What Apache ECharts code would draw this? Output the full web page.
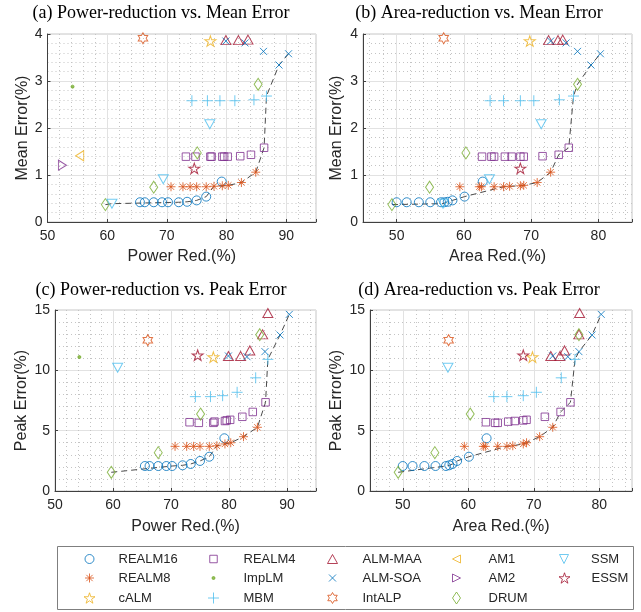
<!DOCTYPE html>
<html>
<head>
<meta charset="utf-8">
<title>Reduction vs. error</title>
<script src="https://cdn.jsdelivr.net/npm/echarts@6/dist/echarts.min.js"></script>
<style>
  html, body { margin: 0; padding: 0; background: #fff; }
  #chart { width: 641px; height: 612px; }
</style>
</head>
<body>
<div id="chart"></div>
<script>
// values: power / area reduction (%), mean / peak error (%)
// null = point falls outside the plotted range
const realm16Power = [65.5, 66.3, 67.8, 69.2, 70.2, 72.0, 73.4, 75.0, 76.6, 79.2]
const realm16Area = [50.0, 51.5, 53.3, 55.0, 56.6, 57.1, 57.6, 58.3, 60.1, 62.8]
const realm16Mean = [0.42, 0.42, 0.42, 0.42, 0.42, 0.42, 0.43, 0.46, 0.54, 0.86]
const realm16Peak = [2.07, 2.07, 2.07, 2.07, 2.07, 2.13, 2.24, 2.49, 2.84, 4.37]

const realm8Power = [70.7, 72.7, 73.9, 75.0, 76.6, 77.9, 79.3, 80.3, 82.5, 84.9]
const realm8Area = [59.4, 62.3, 62.6, 64.5, 65.9, 66.8, 68.4, 68.9, 70.9, 72.9]
const realm8Mean = [0.75, 0.75, 0.75, 0.75, 0.75, 0.76, 0.77, 0.78, 0.84, 1.06]
const realm8Peak = [3.70, 3.70, 3.70, 3.70, 3.70, 3.75, 3.90, 4.00, 4.50, 5.28]

const realm4Power = [73.2, 74.8, 77.3, 77.5, 79.3, 79.6, 80.2, 82.3, 84.1, 86.3]
const realm4Area = [62.7, 64.1, 64.5, 66.1, 67.1, 68.4, 68.9, 71.7, 74.1, 75.6]
const realm4Mean = [1.39, 1.39, 1.39, 1.39, 1.39, 1.39, 1.39, 1.40, 1.43, 1.58]
const realm4Peak = [5.70, 5.65, 5.65, 5.75, 5.80, 5.85, 5.90, 6.15, 6.55, 7.35]

const calmPower = [77.3]
const calmArea = [69.8]
const calmMean = [3.85]
const calmPeak = [11.1]

const impLmPower = [54.2]
const impLmArea = [null]
const impLmMean = [2.88]
const impLmPeak = [11.1]

const mbmPower = [74.2, 76.8, 78.9, 81.4, 84.6, 86.7]
const mbmArea = [63.9, 65.9, 68.4, 70.4, 74.2, 76.3]
const mbmMean = [2.58, 2.58, 2.58, 2.58, 2.60, 2.68]
const mbmPeak = [7.82, 7.82, 7.90, 8.18, 9.38, 10.91]

const almMaaPower = [79.9, 82.0, 83.6, 85.8, 86.7]
const almMaaArea = [72.6, 74.0, 74.7, 76.9, 77.0]
const almMaaMean = [3.87, 3.87, 3.88, 4.02, null]
const almMaaPeak = [11.19, 11.19, 11.65, 12.98, 14.75]

const almSoaPower = [79.9, 83.1, 86.2, 88.8, 90.4]
const almSoaArea = [72.9, 75.2, 76.9, 78.9, 80.3]
const almSoaMean = [3.85, 3.81, 3.63, 3.34, 3.58]
const almSoaPeak = [11.19, 11.13, 11.55, 12.93, 14.64]

const intAlpPower = [66.0]
const intAlpArea = [57.0]
const intAlpMean = [3.91]
const intAlpPeak = [12.5]

const am1Power = [55.4]
const am1Area = [null]
const am1Mean = [1.41]
const am1Peak = [null]

const am2Power = [52.5]
const am2Area = [null]
const am2Mean = [1.21]
const am2Peak = [null]

const drumPower = [59.7, 67.8, 75.1, 85.3]
const drumArea = [49.3, 54.9, 60.3, 76.9]
const drumMean = [0.37, 0.74, 1.47, 2.93]
const drumPeak = [1.55, 3.18, 6.38, 12.95]

const ssmPower = [77.2, 69.4, 60.8]
const ssmArea = [71.5, 63.8, 56.9]
const ssmMean = [2.08, 0.91, 0.39]
const ssmPeak = [null, null, 10.22]

const essmPower = [74.6]
const essmArea = [68.4]
const essmMean = [1.14]
const essmPeak = [11.25]

// legend order (column by column)
const names = ['REALM16', 'REALM8', 'cALM', 'REALM4', 'ImpLM', 'MBM', 'ALM-MAA', 'ALM-SOA', 'IntALP', 'AM1', 'AM2', 'DRUM', 'SSM', 'ESSM']

const designs = {
  'REALM16': { power: realm16Power, area: realm16Area, mean: realm16Mean, peak: realm16Peak },
  'REALM8': { power: realm8Power, area: realm8Area, mean: realm8Mean, peak: realm8Peak },
  'cALM': { power: calmPower, area: calmArea, mean: calmMean, peak: calmPeak },
  'REALM4': { power: realm4Power, area: realm4Area, mean: realm4Mean, peak: realm4Peak },
  'ImpLM': { power: impLmPower, area: impLmArea, mean: impLmMean, peak: impLmPeak },
  'MBM': { power: mbmPower, area: mbmArea, mean: mbmMean, peak: mbmPeak },
  'ALM-MAA': { power: almMaaPower, area: almMaaArea, mean: almMaaMean, peak: almMaaPeak },
  'ALM-SOA': { power: almSoaPower, area: almSoaArea, mean: almSoaMean, peak: almSoaPeak },
  'IntALP': { power: intAlpPower, area: intAlpArea, mean: intAlpMean, peak: intAlpPeak },
  'AM1': { power: am1Power, area: am1Area, mean: am1Mean, peak: am1Peak },
  'AM2': { power: am2Power, area: am2Area, mean: am2Mean, peak: am2Peak },
  'DRUM': { power: drumPower, area: drumArea, mean: drumMean, peak: drumPeak },
  'SSM': { power: ssmPower, area: ssmArea, mean: ssmMean, peak: ssmPeak },
  'ESSM': { power: essmPower, area: essmArea, mean: essmMean, peak: essmPeak }
}

// matlab-like marker shapes
const PENTAGRAM = 'path://M5,0 L6.123,3.455 L9.755,3.455 L6.816,5.59 L7.939,9.045 L5,6.91 L2.061,9.045 L3.184,5.59 L0.245,3.455 L3.877,3.455 Z'
const HEXAGRAM = 'path://M5,0 L6.443,2.5 L9.33,2.5 L7.887,5 L9.33,7.5 L6.443,7.5 L5,10 L3.557,7.5 L0.67,7.5 L2.113,5 L0.67,2.5 L3.557,2.5 Z'
const markers = {
  'REALM16': { symbol: 'circle', size: 9, color: '#0072BD' },
  'REALM8': { symbol: 'path://M5,0 L5,10 M0,5 L10,5 M1.5,1.5 L8.5,8.5 M8.5,1.5 L1.5,8.5', size: 9, color: '#D95319' },
  'cALM': { symbol: PENTAGRAM, size: [11, 10.5], color: '#EDB120' },
  'REALM4': { symbol: 'rect', size: 7.5, color: '#7E2F8E' },
  'ImpLM': { symbol: 'circle', size: 3, color: '#77AC30', filled: true },
  'MBM': { symbol: 'path://M5,0 L5,10 M0,5 L10,5', size: 11, color: '#4DBEEE' },
  'ALM-MAA': { symbol: 'triangle', size: [10, 9], color: '#A2142F' },
  'ALM-SOA': { symbol: 'path://M0,0 L10,10 M10,0 L0,10', size: 7, color: '#0072BD' },
  'IntALP': { symbol: HEXAGRAM, size: [9.5, 11], color: '#D95319' },
  'AM1': { symbol: 'path://M10,0 L10,10 L0,5 Z', size: [8, 10], color: '#EDB120' },
  'AM2': { symbol: 'path://M0,0 L0,10 L10,5 Z', size: [8, 10], color: '#7E2F8E' },
  'DRUM': { symbol: 'diamond', size: [8, 12], color: '#77AC30' },
  'SSM': { symbol: 'path://M0,0 L10,0 L5,10 Z', size: [10, 9], color: '#4DBEEE' },
  'ESSM': { symbol: PENTAGRAM, size: [11, 10.5], color: '#A2142F' }
}

const panels = [
  { title: '(a) Power-reduction vs. Mean Error', x: 'power', y: 'mean', xName: 'Power Red.(%)', yName: 'Mean Error(%)',
    xMin: 50, xMax: 95, yMax: 4, yStep: 1, grid: { left: 47.5, top: 34, width: 268.5, height: 188 },
    titleX: 161, titleY: 13, xGap: 27, yGap: 17 },
  { title: '(b) Area-reduction vs. Mean Error', x: 'area', y: 'mean', xName: 'Area Red.(%)', yName: 'Mean Error(%)',
    xMin: 45, xMax: 85, yMax: 4, yStep: 1, grid: { left: 363, top: 34, width: 269, height: 188 },
    titleX: 479, titleY: 13, xGap: 27, yGap: 18 },
  { title: '(c) Power-reduction vs. Peak Error', x: 'power', y: 'peak', xName: 'Power Red.(%)', yName: 'Peak Error(%)',
    xMin: 50, xMax: 95, yMax: 15, yStep: 5, grid: { left: 55, top: 310, width: 261, height: 181 },
    titleX: 161, titleY: 290, xGap: 28, yGap: 25 },
  { title: '(d) Area-reduction vs. Peak Error', x: 'area', y: 'peak', xName: 'Area Red.(%)', yName: 'Peak Error(%)',
    xMin: 45, xMax: 85, yMax: 15, yStep: 5, grid: { left: 370, top: 310, width: 262, height: 181 },
    titleX: 479, titleY: 290, xGap: 28, yGap: 25 }
]

const SANS = '"Liberation Sans", Arial, sans-serif'
const TEXT = '#262626'

function pairs(xs, ys) {
  const out = []
  xs.forEach((x, i) => {
    if (x != null && ys[i] != null) out.push([x, ys[i]])
  })
  return out
}

// lower-right envelope: no other point has more reduction and less error
function paretoFront(points) {
  const sorted = points.slice().sort((a, b) => b[0] - a[0] || a[1] - b[1])
  const front = []
  let best = Infinity
  sorted.forEach(p => {
    if (p[1] < best) {
      front.push(p)
      best = p[1]
    }
  })
  return front.reverse()
}

const grids = []
const xAxes = []
const yAxes = []
const series = []
const graphics = []

panels.forEach((p, i) => {
  grids.push(Object.assign({ show: true, borderColor: '#c6c6c6', borderWidth: 1, containLabel: false }, p.grid))

  const xAxis = {
    gridIndex: i, type: 'value', min: p.xMin, max: p.xMax,
    name: p.xName, nameLocation: 'middle', nameGap: p.xGap,
    nameTextStyle: { fontFamily: SANS, fontSize: 16, color: TEXT },
    axisLine: { lineStyle: { color: '#404040' } },
    axisTick: { inside: true, length: 3, lineStyle: { color: '#404040' } },
    axisLabel: { fontFamily: SANS, fontSize: 14, color: TEXT, margin: 7,
      formatter: v => (v % 10 === 0 ? String(v) : '') },
    splitLine: { lineStyle: { color: '#e2e2e2' } },
    minorTick: { show: false, splitNumber: 5 },
    minorSplitLine: { show: true, lineStyle: { color: '#c4c4c4', type: [1, 3] } }
  }
  // 45..85 is not a multiple of the 10 step, let echarts place the ticks
  if (p.xMin % 10 === 0) xAxis.interval = 10
  else xAxis.splitNumber = 4
  xAxes.push(xAxis)

  yAxes.push({
    gridIndex: i, type: 'value', min: 0, max: p.yMax, interval: p.yStep,
    name: p.yName, nameLocation: 'middle', nameGap: p.yGap,
    nameTextStyle: { fontFamily: SANS, fontSize: 16, color: TEXT },
    axisLine: { show: true, lineStyle: { color: '#404040' } },
    axisTick: { show: true, inside: true, length: 3, lineStyle: { color: '#404040' } },
    axisLabel: { fontFamily: SANS, fontSize: 14, color: TEXT, margin: 5 },
    splitLine: { lineStyle: { color: '#e2e2e2' } },
    minorTick: { show: false, splitNumber: 5 },
    minorSplitLine: { show: true, lineStyle: { color: '#c4c4c4', type: [1, 3] } }
  })

  let all = []
  names.forEach(name => {
    const d = designs[name]
    const m = markers[name]
    const data = pairs(d[p.x], d[p.y])
    all = all.concat(data)
    series.push({
      name: name, type: 'scatter', xAxisIndex: i, yAxisIndex: i,
      symbol: m.symbol, symbolSize: m.size,
      itemStyle: { color: m.filled ? m.color : 'transparent', borderColor: m.color, borderWidth: 1 },
      data: data, z: 3
    })
  })

  series.push({
    name: 'front', type: 'line', xAxisIndex: i, yAxisIndex: i,
    data: paretoFront(all), symbol: 'none', silent: true, z: 2,
    lineStyle: { color: '#4a4a4a', width: 1, type: [6, 4] }
  })

  graphics.push({
    type: 'text', x: p.titleX, y: p.titleY, silent: true,
    style: { text: p.title, fontFamily: '"Liberation Serif", "Times New Roman", serif', fontSize: 18,
      fill: '#000', align: 'center', verticalAlign: 'middle' }
  })
})

// legend: 5 columns x 3 rows inside a box
const legendIconX = [89, 213, 332, 456, 564]
const legendTextX = [118, 243, 362, 488, 591]
const legendRowY = [559, 578, 598]
const legends = names.map((name, k) => {
  const col = Math.floor(k / 3)
  const row = k % 3
  const m = markers[name]
  const w = Array.isArray(m.size) ? m.size[0] : m.size
  const h = Array.isArray(m.size) ? m.size[1] : m.size
  return {
    data: [name], padding: 0, itemGap: 0, itemWidth: w, itemHeight: h,
    left: legendIconX[col] - w / 2, top: legendRowY[row] - 7,
    itemStyle: { color: m.filled ? m.color : 'transparent', borderColor: m.color, borderWidth: 1 },
    textStyle: { fontFamily: SANS, fontSize: 13, color: TEXT, lineHeight: 14,
      padding: [0, 0, 0, legendTextX[col] - (legendIconX[col] + w / 2) - 5] }
  }
})

graphics.push({
  type: 'rect', silent: true,
  shape: { x: 57.5, y: 546.5, width: 576, height: 63 },
  style: { fill: 'none', stroke: '#7f7f7f', lineWidth: 1 }
})

const myChart = echarts.init(document.getElementById('chart'))
myChart.setOption({
  animation: false,
  backgroundColor: '#fff',
  grid: grids,
  xAxis: xAxes,
  yAxis: yAxes,
  legend: legends,
  series: series,
  graphic: graphics
})
</script>
</body>
</html>
